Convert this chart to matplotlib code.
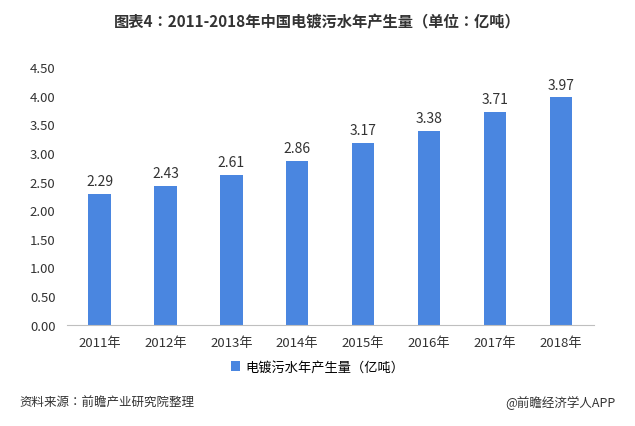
import matplotlib
matplotlib.use("Agg")
import matplotlib.pyplot as plt
from matplotlib import font_manager as fm

years = ["2011年","2012年","2013年","2014年","2015年","2016年","2017年","2018年"]
values = [2.29,2.43,2.61,2.86,3.17,3.38,3.71,3.97]
yticks = [0,0.5,1,1.5,2,2.5,3,3.5,4,4.5]

fam = "DejaVu Sans"
for f in fm.findSystemFonts():
    if "cjk" in f.lower():
        try:
            fm.fontManager.addfont(f)
        except Exception:
            pass
names = {e.name for e in fm.fontManager.ttflist}
for cand in ["Noto Sans CJK SC", "Noto Sans CJK JP", "Noto Sans SC", "Noto Sans CJK TC"]:
    if cand in names:
        fam = cand
        break
plt.rcParams["font.family"] = [fam, "DejaVu Sans"]
plt.rcParams["font.sans-serif"] = [fam, "DejaVu Sans"]

fig = plt.figure(figsize=(6.35,4.27), dpi=100)
ax = fig.add_axes([0.105,0.237,0.83,0.604])
x = range(len(years))
bars = ax.bar(x, values, width=0.34, color="#4a86e0", label="电镀污水年产生量（亿吨）")
for xi, v in zip(x, values):
    ax.text(xi, v+0.1, f"{v:.2f}", ha="center", va="bottom", fontsize=10, color="#333333")
ax.set_xlim(-0.5, 7.5)
ax.set_ylim(0, 4.5)
ax.set_yticks(yticks)
ax.set_yticklabels([f"{t:.2f}" for t in yticks], fontsize=9.5, color="#333333")
ax.set_xticks(list(x))
ax.set_xticklabels(years, fontsize=9.5, color="#333333")
for s in ["top","right","left"]:
    ax.spines[s].set_visible(False)
ax.spines["bottom"].set_color("#bfbfbf")
ax.tick_params(axis="both", length=0, pad=8)
fig.text(0.5, 0.948, "图表4：2011-2018年中国电镀污水年产生量（单位：亿吨）", ha="center", va="center", fontsize=11, fontweight="bold", color="#333333")
fig.legend(handles=[bars], loc="center", bbox_to_anchor=(0.5, 0.138), frameon=False, fontsize=9.5, handlelength=0.7, handleheight=0.7, handletextpad=0.4)
fig.text(0.03, 0.055, "资料来源：前瞻产业研究院整理", ha="left", va="center", fontsize=9, style="italic", color="#333333")
fig.text(0.97, 0.055, "@前瞻经济学人APP", ha="right", va="center", fontsize=9, color="#333333")
fig.savefig("out.png", dpi=100)
